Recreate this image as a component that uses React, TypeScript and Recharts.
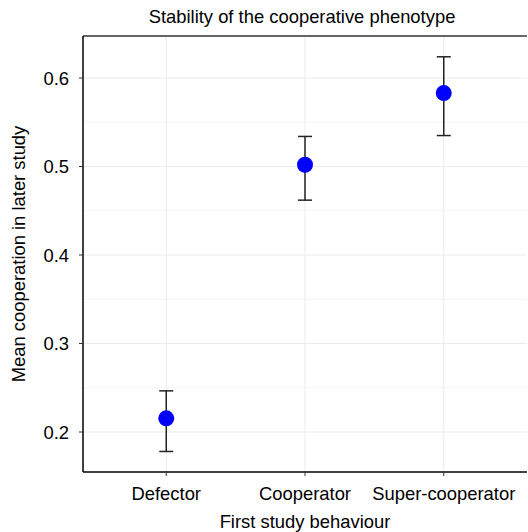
import React from "react";
import {
  ScatterChart,
  Scatter,
  ErrorBar,
  XAxis,
  YAxis,
  CartesianGrid,
  ReferenceLine,
} from "recharts";

const categories = ["Defector", "Cooperator", "Super-cooperator"];
const means = [0.2155, 0.502, 0.583];
const lower = [0.178, 0.462, 0.535];
const upper = [0.2465, 0.534, 0.624];

const yTicks = [0.2, 0.3, 0.4, 0.5, 0.6];
const yMinor = [0.25, 0.35, 0.45, 0.55];
const yDomain = [0.1548, 0.6475];
const xDomain = [0.4, 3.6];

const FONT = '"Liberation Sans", Arial, Helvetica, sans-serif';
const FS = 18.4;

const rows = categories.map((name, i) => ({
  x: i + 1,
  name,
  y: means[i],
  err: [means[i] - lower[i], upper[i] - means[i]],
}));

export default function App() {
  const tickStyle = { fill: "#000", fontSize: FS, fontFamily: FONT };
  return (
    <div
      style={{
        position: "absolute",
        left: 0,
        top: 0,
        width: 528,
        height: 532,
        background: "#fff",
        fontFamily: FONT,
      }}
    >
      <div
        style={{
          position: "absolute",
          left: 80,
          width: 444,
          top: 6,
          textAlign: "center",
          fontSize: FS,
          color: "#000",
          lineHeight: "22px",
        }}
      >
        Stability of the cooperative phenotype
      </div>
      <ScatterChart
        width={528}
        height={532}
        margin={{ top: 36, right: 1, bottom: 0, left: 0 }}
      >
        <CartesianGrid
          stroke="#f5f5f5"
          vertical={false}
          horizontalValues={yMinor}
        />
        <CartesianGrid
          stroke="#ebebeb"
          horizontalValues={yTicks}
          verticalValues={[1, 2, 3]}
        />
        <XAxis
          type="number"
          dataKey="x"
          domain={xDomain}
          ticks={[1, 2, 3]}
          allowDataOverflow
          tickFormatter={(v: number) => categories[v - 1] ?? ""}
          height={60}
          tickSize={4}
          tickMargin={11}
          tick={tickStyle}
          axisLine={{ stroke: "#000", strokeWidth: 1.5 }}
          tickLine={{ stroke: "#333" }}
          label={{
            value: "First study behaviour",
            position: "insideBottom",
            offset: 4,
            style: { fill: "#000", fontSize: FS, fontFamily: FONT },
          }}
        />
        <YAxis
          type="number"
          dataKey="y"
          domain={yDomain}
          ticks={yTicks}
          allowDataOverflow
          tickFormatter={(v: number) => v.toFixed(1)}
          width={83}
          tickSize={4}
          tickMargin={10}
          tick={tickStyle}
          axisLine={{ stroke: "#000", strokeWidth: 1.5 }}
          tickLine={{ stroke: "#333" }}
          label={{
            value: "Mean cooperation in later study",
            angle: -90,
            position: "insideLeft",
            offset: 18.6,
            style: {
              textAnchor: "middle",
              fill: "#000",
              fontSize: FS,
              fontFamily: FONT,
            },
          }}
        />
        <ReferenceLine y={yDomain[1]} stroke="#333" strokeWidth={1.5} />
        <Scatter
          data={rows}
          isAnimationActive={false}
          shape={() => <g />}
        >
          <ErrorBar
            dataKey="err"
            direction="y"
            width={7}
            stroke="#222"
            strokeWidth={1.5}
          />
        </Scatter>
        <Scatter
          data={rows}
          isAnimationActive={false}
          shape={(p: any) => (
            <circle cx={p.cx} cy={p.cy} r={8} fill="#0000ff" />
          )}
        />
      </ScatterChart>
    </div>
  );
}
